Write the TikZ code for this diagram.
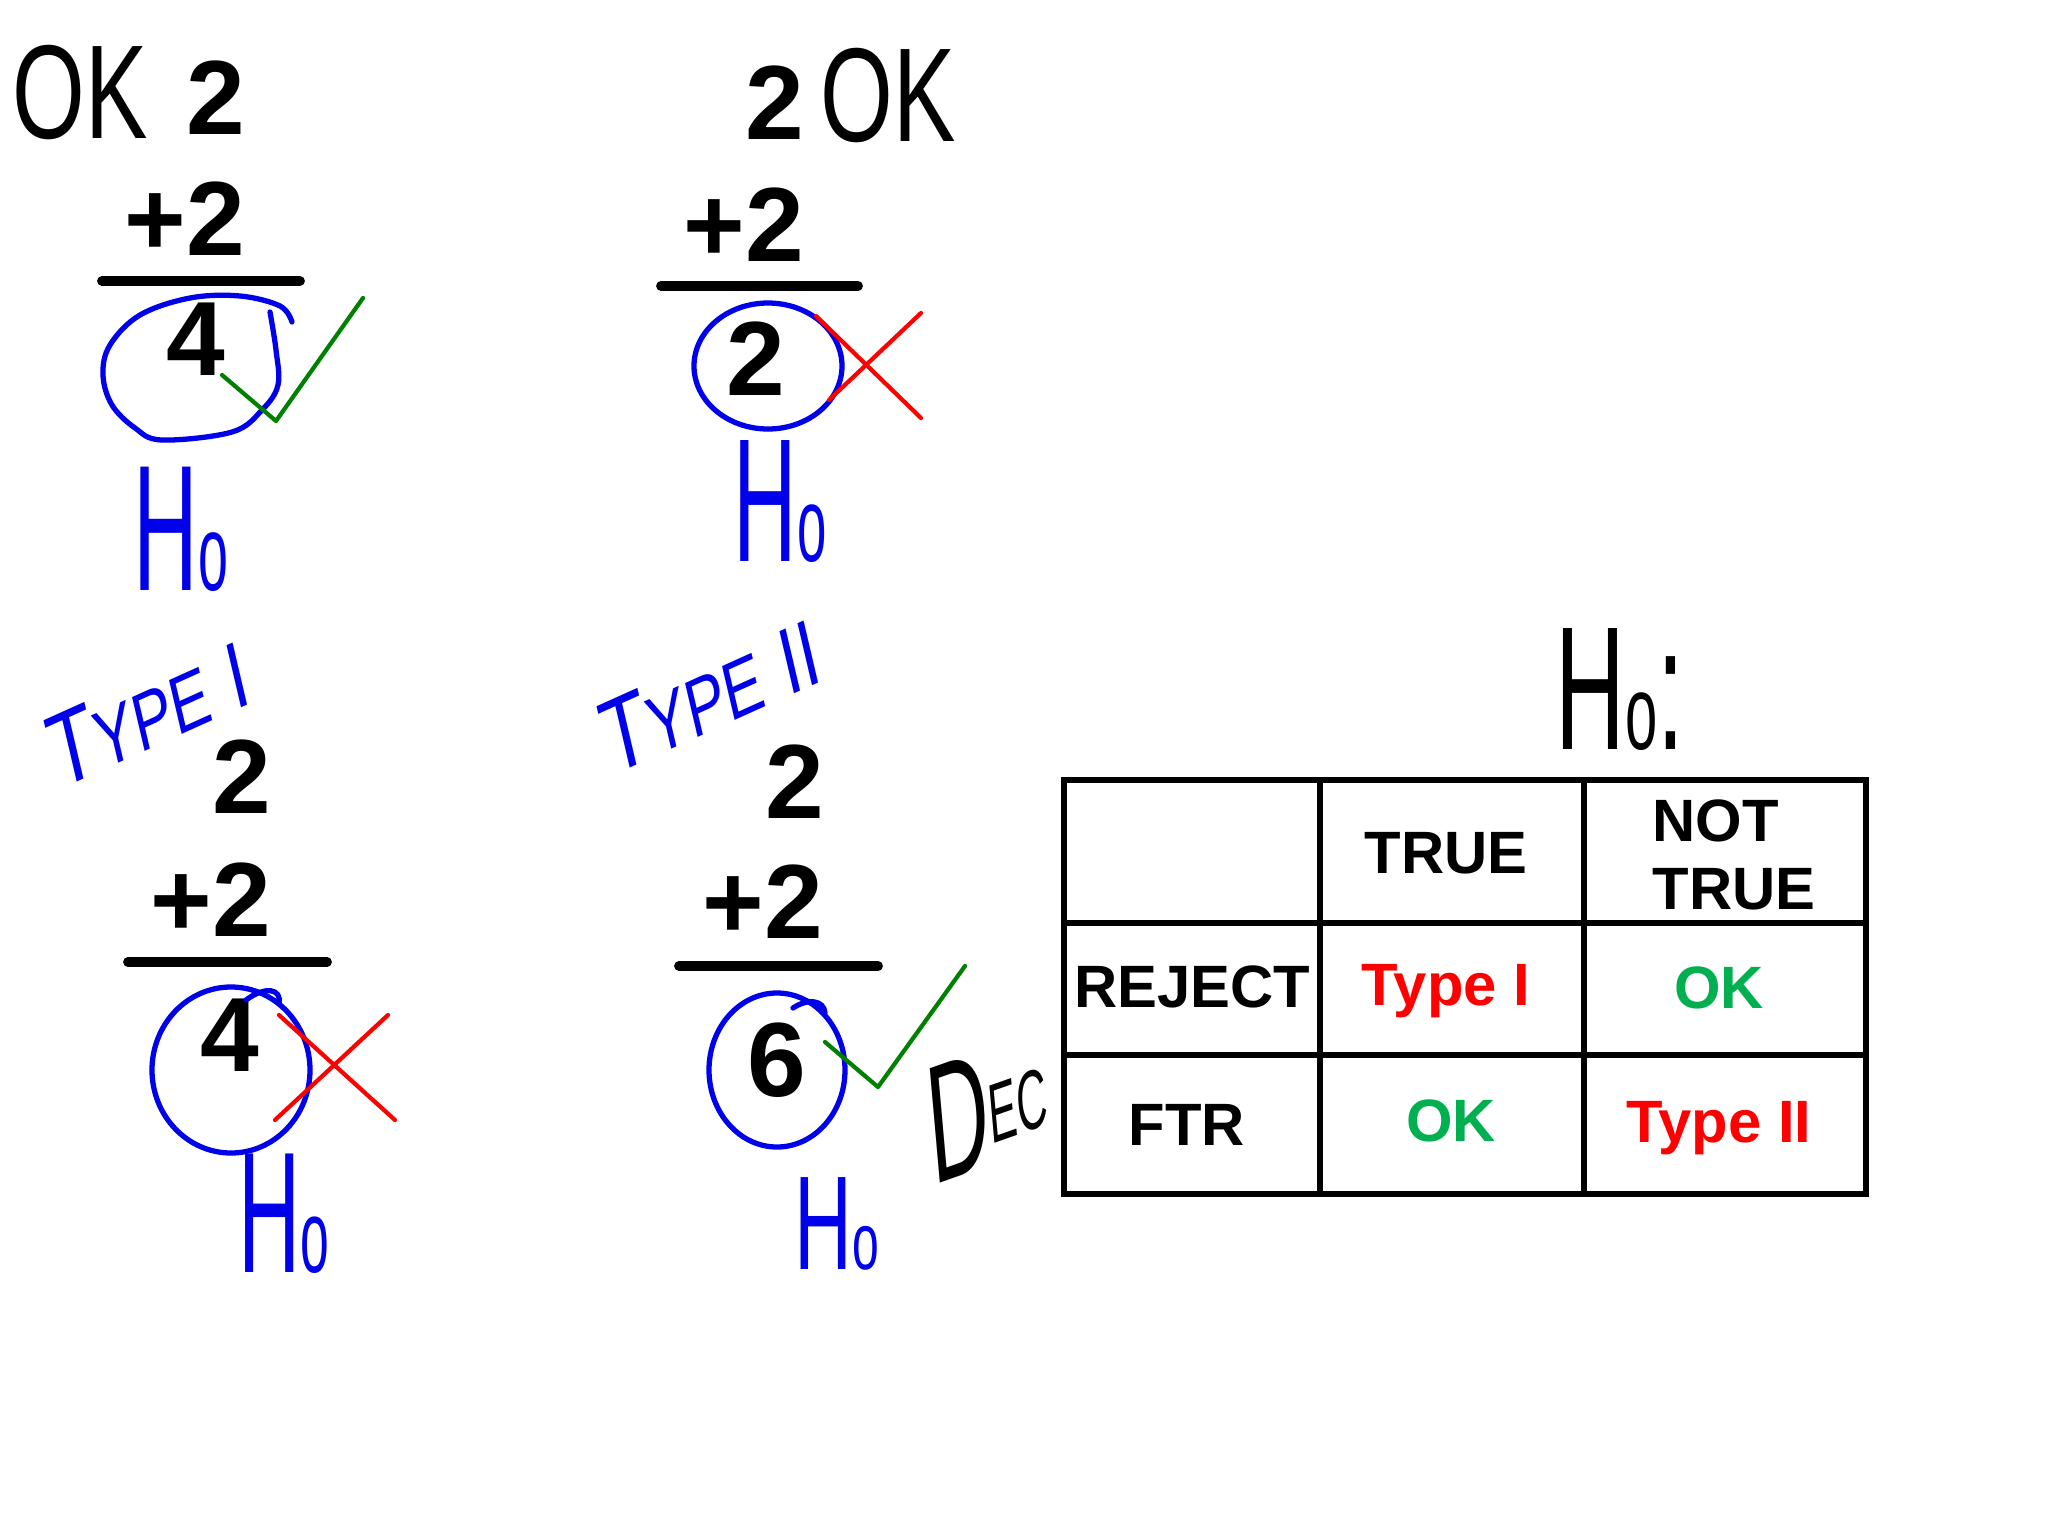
\documentclass[tikz,border=0pt]{standalone}
\usepackage{fontspec}
\setmainfont{Liberation Sans}
\usepackage{tikz}
\definecolor{penblue}{RGB}{0,0,235}
\definecolor{penred}{RGB}{255,0,0}
\definecolor{pengreen}{RGB}{0,128,0}
\definecolor{okgreen}{RGB}{0,176,80}
\newcommand{\hsub}[1]{\scalebox{0.6}{#1}}

\begin{document}
\begin{tikzpicture}[
    x=0.01cm, y=-0.01cm,
    every node/.style={inner sep=0pt},
    % Typed sums
    numtext/.style={font=\fontsize{30}{30}\selectfont\bfseries},
    sumline/.style={line width=2.8pt, line cap=round},
    % Pen strokes
    handtext/.style={font=\fontsize{#1}{#1}\selectfont, transform shape},
    penloop/.style={draw=penblue, line width=1.5pt, line cap=round, line join=round},
    tickmark/.style={draw=pengreen, line width=1.2pt, line cap=round, line join=round},
    crossmark/.style={draw=penred, line width=1.2pt, line cap=round},
    % Decision table
    gridline/.style={line width=1.8pt, line cap=rect},
    celltext/.style={font=\fontsize{17}{19.5}\selectfont\bfseries}
  ]

  % ============ Canvas ============
  \fill[white] (0,0) rectangle (2048,1536);
  \useasboundingbox (0,0) rectangle (2048,1536);

  % ============ Sum 1 (top left) ============
  \node[handtext=38, xscale=0.7] (okA) at (80,92) {OK};
  \node[numtext] (topA) at (216,98) {2};
  \node[numtext] (addA) at (185,219) {+2};
  \draw[sumline] (102,281) -- (300,281);
  \node[numtext] (resA) at (196,339) {4};
  \draw[penloop] plot[smooth, tension=0.6] coordinates {(292,322) (280,306) (240,296)
    (190,298) (140,315) (110,345) (103,375) (112,405) (135,428) (162,440) (232,432)
    (262,410) (278,385) (276,350) (270,312)};
  \draw[tickmark] (222,375) -- (276,421) -- (363,298);
  \node[handtext=51, xscale=0.5, text=penblue] (hoA) at (181,529) {H\hsub{o}};

  % ============ Sum 2 (top middle) ============
  \node[numtext] (topB) at (775,103) {2};
  \node[handtext=38, xscale=0.7] (okB) at (888,95) {OK};
  \node[numtext] (addB) at (744,225) {+2};
  \draw[sumline] (661,286) -- (858,286);
  \node[numtext] (resB) at (756,359) {2};
  \draw[penloop] (768,366) ellipse (74 and 63);
  \draw[crossmark] (816,316) -- (921,418) (921,313) -- (829,400);
  \node[handtext=50, xscale=0.5, text=penblue] (hoB) at (780,502) {H\hsub{o}};

  % ============ Sum 3 (bottom left) ============
  \node[handtext=30, xscale=0.72, rotate=18, text=penblue] (typeA) at (148,712)
    {T\scalebox{0.78}{YPE} \scalebox{0.9}{I}};
  \node[numtext] (topC) at (242,777) {2};
  \node[numtext] (addC) at (211,900) {+2};
  \draw[sumline] (128,962) -- (327,962);
  \node[numtext] (resC) at (230,1035) {4};
  \draw[penloop] (231,1070) ellipse (79 and 83);
  \draw[penloop] (246,1000) .. controls (265,986) and (282,988) .. (279,1004);
  \draw[crossmark] (279,1015) -- (395,1120) (388,1015) -- (275,1120);
  \node[handtext=49, xscale=0.5, text=penblue] (hoC) at (284,1214) {H\hsub{o}};

  % ============ Sum 4 (bottom middle) ============
  \node[handtext=30, xscale=0.72, rotate=18, text=penblue] (typeB) at (710,694)
    {T\scalebox{0.78}{YPE} \scalebox{0.9}{II}};
  \node[numtext] (topD) at (795,782) {2};
  \node[numtext] (addD) at (763,902) {+2};
  \draw[sumline] (679,966) -- (878,966);
  \node[numtext] (resD) at (777,1060) {6};
  \draw[penloop] (777,1070) ellipse (68 and 77);
  \draw[penloop] (793,1008) .. controls (808,998) and (824,1000) .. (825,1013);
  \draw[tickmark] (825,1042) -- (878,1087) -- (965,966);
  \node[handtext=38, xscale=0.6, text=penblue] (hoD) at (837,1224) {H\hsub{o}};
  \node[handtext=48, xscale=0.5, rotate=10] (dec) at (987,1108)
    {D\raisebox{6pt}{\scalebox{0.5}{EC}}};

  % ============ Decision table ============
  \node[handtext=50, xscale=0.55] (hohead) at (1620,690) {H\hsub{o}:};
  \draw[gridline] (1064,780) rectangle (1866,1194);
  \draw[gridline] (1320,780) -- (1320,1194) (1584,780) -- (1584,1194);
  \draw[gridline] (1064,923) -- (1866,923) (1064,1055) -- (1866,1055);

  \node[celltext] (colT) at (1446,853) {TRUE};
  \node[celltext, align=left, anchor=west] (colN) at (1652,855) {NOT\\TRUE};
  \node[celltext] (rowR) at (1192,987) {REJECT};
  \node[celltext, text=penred] (cellRT) at (1446,991) {Type I};
  \node[celltext, text=okgreen] (cellRN) at (1719,988) {OK};
  \node[celltext] (rowF) at (1187,1125) {FTR};
  \node[celltext, text=okgreen] (cellFT) at (1451,1121) {OK};
  \node[celltext, text=penred] (cellFN) at (1719,1128) {Type II};

\end{tikzpicture}
\end{document}
